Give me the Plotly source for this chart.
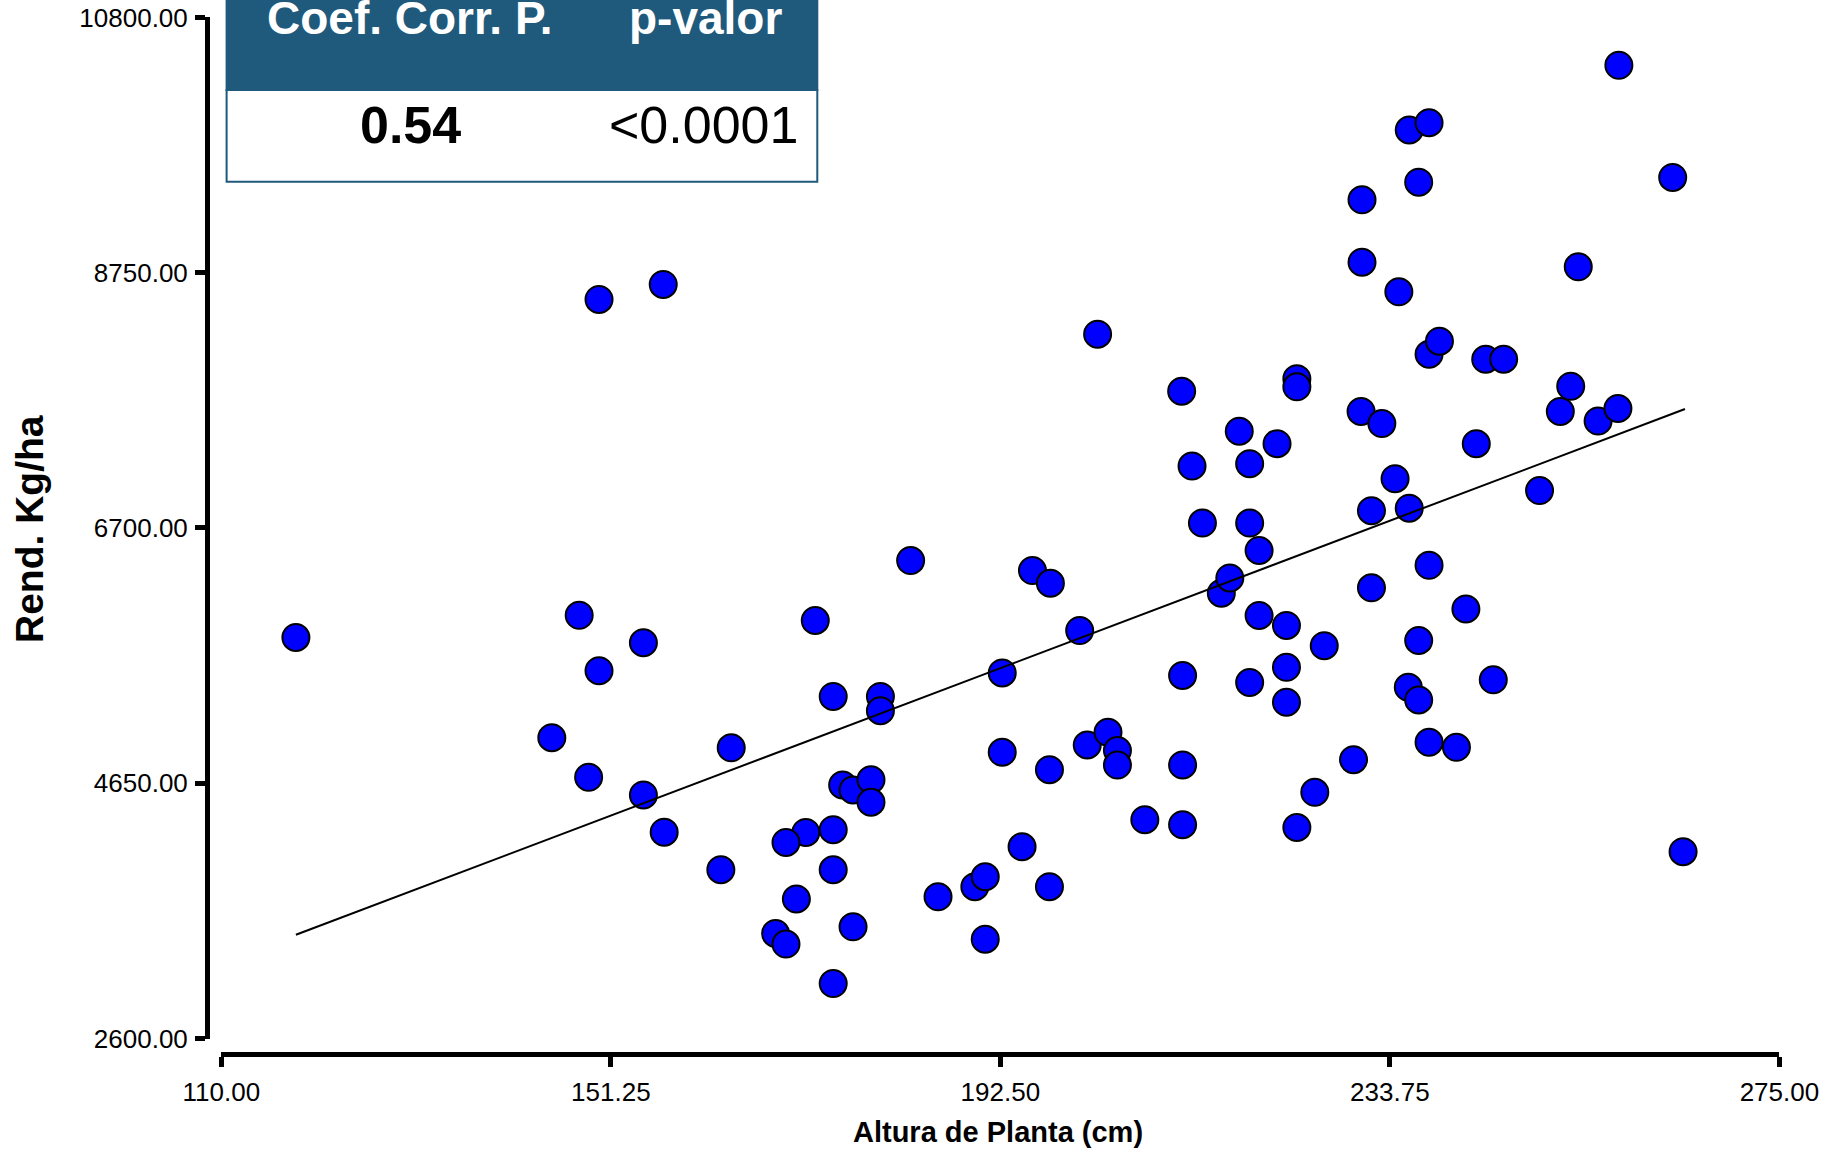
import plotly.graph_objects as go

# ---- data ----
altura = [117.9, 150.0, 156.8, 147.9, 154.7, 150.0, 145.0, 148.9, 154.7, 156.9,
          164.0, 162.9, 172.9, 174.8, 179.8, 179.8, 183.0, 175.8, 176.9, 178.8,
          178.8, 174.8, 171.9, 169.8, 174.8, 170.9, 168.7, 169.8, 176.9, 174.8,
          185.9, 189.8, 190.9, 190.9, 194.8, 197.7, 192.7, 192.7, 197.7, 195.9,
          197.8, 200.9, 202.8, 201.7, 203.9, 204.9, 204.9, 207.8, 211.7, 212.8,
          213.9, 211.8, 211.8, 211.8, 215.9, 216.8, 217.8, 218.9, 218.9, 219.9,
          219.9, 218.9, 221.8, 223.9, 223.9, 222.8, 222.8, 222.8, 226.8, 223.9,
          225.8, 229.9, 230.8, 230.8, 230.7, 232.9, 231.8, 231.8, 234.3, 234.7,
          235.8, 237.9, 236.8, 237.9, 239.0, 235.8, 237.9, 236.8, 235.7, 236.8,
          237.9, 240.8, 241.8, 242.9, 243.9, 245.8, 244.7, 249.6, 251.8, 252.9,
          253.7, 255.8, 257.9, 258.0, 263.7, 264.8]
rendimiento = [5820, 8535, 8656, 5998, 5778, 5554, 5015, 4697, 4556, 4257,
               4934, 3955, 5957, 5347, 5347, 5233, 6438, 4636, 4596, 4678,
               4497, 4277, 4255, 4174, 3955, 3720, 3443, 3358, 3497, 3041,
               3738, 3819, 3899, 3398, 4140, 3819, 5536, 4898, 4759, 6358,
               6256, 5876, 8256, 4957, 5059, 4912, 4796, 4357, 7798, 7197,
               6739, 5515, 4797, 4317, 6176, 6299, 7477, 7216, 6739, 6519,
               5997, 5459, 7377, 7899, 7833, 5917, 5581, 5300, 5755, 4295,
               4577, 4839, 9335, 8834, 7636, 7538, 6839, 6219, 7096, 8596,
               9896, 9954, 9477, 8095, 8200, 6859, 6400, 5796, 5420, 5319,
               4979, 4938, 6050, 7377, 8055, 8055, 5480, 7000, 7636, 7837,
               8797, 7558, 7659, 10415, 9515, 4100]

trend_x = [117.9, 265.0]
trend_y = [3433, 7655]

x_ticks = [110, 151.25, 192.5, 233.75, 275]
x_ticklabels = ["110.00", "151.25", "192.50", "233.75", "275.00"]
y_ticks = [2600, 4650, 6700, 8750, 10800]
y_ticklabels = ["2600.00", "4650.00", "6700.00", "8750.00", "10800.00"]

table_header = ["Coef. Corr. P.", "p-valor"]
table_values = ["0.54", "&lt;0.0001"]

# ---- figure ----
W, H = 1826, 1153
FONT = "Liberation Sans, Arial, Helvetica, sans-serif"
BLUE_HDR = "#1f5a7c"

def px_x(p):
    return p / W

def px_y(p):
    return 1 - p / H

fig = go.Figure()
fig.add_trace(go.Scatter(
    x=altura, y=rendimiento, mode="markers",
    marker=dict(size=27, color="#0000ff", line=dict(color="black", width=2)),
    showlegend=False, hoverinfo="x+y"))
fig.add_trace(go.Scatter(
    x=trend_x, y=trend_y, mode="lines",
    line=dict(color="black", width=2),
    showlegend=False, hoverinfo="skip"))

fig.update_layout(
    width=W, height=H, autosize=False,
    margin=dict(l=0, r=0, t=0, b=0, pad=0),
    paper_bgcolor="white", plot_bgcolor="white",
    font=dict(family=FONT, color="black"),
    xaxis=dict(
        domain=[px_x(221.3), px_x(1779.4)], range=[110, 275],
        anchor="free", position=px_y(1054.2),
        showgrid=False, zeroline=False,
        showline=True, linecolor="black", linewidth=5,
        ticks="outside", ticklen=10, tickwidth=5, tickcolor="black",
        tickvals=x_ticks, ticktext=x_ticklabels,
        tickfont=dict(size=26, family=FONT, color="black"),
        ticklabelstandoff=3, automargin=False),
    yaxis=dict(
        domain=[px_y(1038.5), px_y(17.4)], range=[2600, 10800],
        anchor="free", position=px_x(207),
        showgrid=False, zeroline=False,
        showline=True, linecolor="black", linewidth=5,
        ticks="outside", ticklen=10, tickwidth=5, tickcolor="black",
        tickvals=y_ticks, ticktext=y_ticklabels,
        tickfont=dict(size=26, family=FONT, color="black"),
        ticklabelstandoff=2, automargin=False),
)

# table (header + value row)
fig.add_shape(type="rect", xref="paper", yref="paper",
              x0=px_x(226.6), x1=px_x(817.3), y0=px_y(90), y1=1.05,
              fillcolor=BLUE_HDR, line=dict(color=BLUE_HDR, width=2), layer="above")
fig.add_shape(type="rect", xref="paper", yref="paper",
              x0=px_x(226.6), x1=px_x(817.3), y0=px_y(181.7), y1=px_y(90),
              fillcolor="white", line=dict(color=BLUE_HDR, width=2), layer="above")

hdr_x = [409.2, 705.0]
val_x = [410.0, 703.3]
for i in range(2):
    fig.add_annotation(text=table_header[i], xref="paper", yref="paper",
                       x=px_x(hdr_x[i]), y=px_y(18.0), showarrow=False,
                       xanchor="center", yanchor="middle",
                       font=dict(size=46, family=FONT, color="white", weight="bold"))
fig.add_annotation(text=table_values[0], xref="paper", yref="paper",
                   x=px_x(val_x[0]), y=px_y(124.7), showarrow=False,
                   xanchor="center", yanchor="middle",
                   font=dict(size=52, family=FONT, color="black", weight="bold"))
fig.add_annotation(text=table_values[1], xref="paper", yref="paper",
                   x=px_x(val_x[1]), y=px_y(124.7), showarrow=False,
                   xanchor="center", yanchor="middle",
                   font=dict(size=52, family=FONT, color="black"))

# axis titles
fig.add_annotation(text="Altura de Planta (cm)", xref="paper", yref="paper",
                   x=px_x(997.5), y=px_y(1131.7), showarrow=False,
                   xanchor="center", yanchor="middle",
                   font=dict(size=29, family=FONT, color="black", weight="bold"))
fig.add_annotation(text="Rend. Kg/ha", xref="paper", yref="paper",
                   x=px_x(29), y=px_y(529), showarrow=False, textangle=-90,
                   xanchor="center", yanchor="middle",
                   font=dict(size=39, family=FONT, color="black", weight="bold"))

fig.write_html(
    "out.html",
    config={"displayModeBar": False},
    post_script="document.body.style.margin='0px';document.body.style.overflow='hidden';",
)
